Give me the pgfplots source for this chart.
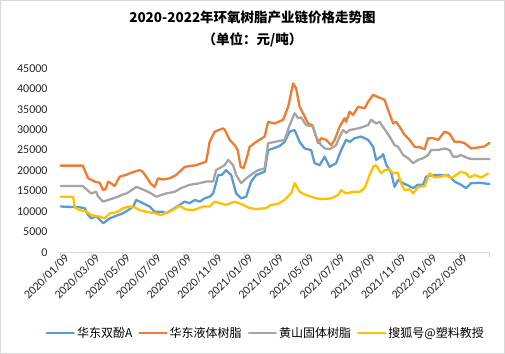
\documentclass[border=0pt]{standalone}
\usepackage{fontspec}
\setmainfont{Carlito}
\newfontfamily\cjk{Noto Sans CJK SC}
\usepackage{pgfplots}
\pgfplotsset{compat=1.18}
\definecolor{cBlue}{HTML}{5B9BD5}
\definecolor{cOrange}{HTML}{ED7D31}
\definecolor{cGray}{HTML}{A5A5A5}
\definecolor{cYellow}{HTML}{FFC000}
\definecolor{cAxis}{HTML}{D9D9D9}
\definecolor{cText}{HTML}{262626}
\begin{document}
\begin{tikzpicture}
\path[use as bounding box] (0,0) rectangle (505bp,354bp);
\draw[cAxis, line width=0.8bp] (0.5bp,0.5bp) rectangle (504.5bp,353.5bp);
\node[font=\cjk\bfseries\fontsize{13.5bp}{15bp}\selectfont, text=black] at (252.5bp,337bp) {2020-2022年环氧树脂产业链价格走势图};
\node[font=\cjk\bfseries\fontsize{13.5bp}{15bp}\selectfont, text=black] at (252.5bp,314bp) {（单位：元/吨）};
\begin{axis}[
  at={(60.7bp,101.7bp)}, anchor=south west,
  scale only axis, width=428.9bp, height=184bp,
  xmin=0, xmax=858, ymin=0, ymax=45000,
  axis x line*=bottom, axis y line*=left,
  x axis line style={draw=cAxis, line width=0.8bp},
  y axis line style={draw=none},
  xtick={0,61.29,122.57,183.86,245.14,306.43,367.71,429,490.29,551.57,612.86,674.14,735.43,796.71,858},
  xticklabels={2020/01/09,2020/03/09,2020/05/09,2020/07/09,2020/09/09,2020/11/09,2021/01/09,2021/03/09,2021/05/09,2021/07/09,2021/09/09,2021/11/09,2022/01/09,2022/03/09,},
  xtick style={draw=cAxis, line width=0.8bp},
  tick align=outside, major tick length=4.5bp,
  ytick={0,5000,...,45000},
  ytick style={draw=none},
  scaled y ticks=false,
  /pgf/number format/assume math mode=true,
  yticklabel={\pgfmathprintnumber[fixed,1000 sep={}]{\tick}},
  yticklabel style={anchor=east, inner sep=0pt, xshift=-8.5bp, font=\fontsize{12bp}{14bp}\selectfont, text=cText},
  xticklabel style={rotate=45, anchor=east, inner sep=0pt, xshift=5bp, yshift=-4bp, font=\fontsize{12bp}{14bp}\selectfont, text=cText},
  legend columns=4,
  legend style={at={(axis description cs:0.478,-0.4386)}, anchor=center, draw=none, fill=none,
    font=\cjk\fontsize{12bp}{14bp}\selectfont, text=black,
    /tikz/every even column/.append style={column sep=4bp},
    inner sep=0pt},
  legend image code/.code={\draw[#1, line width=2.4bp] (0bp,0bp) -- (27bp,0bp);},
  every axis plot/.append style={line width=2.3bp, line join=round, line cap=round},
  clip=false,
]
\addplot[cBlue] coordinates {
(0,11200)(38,11000)(48,10800)(55,9100)(61,8300)(71,8800)(85,7100)(98,8300)(115,9100)(124,9500)
(135,10300)(145,11200)(151,12800)(158,12400)(168,11800)(178,11200)(188,9900)(205,9900)(210,9500)
(228,10800)(238,11600)(248,12400)(258,12000)(268,12800)(278,12400)(288,13200)(298,13600)(305,14400)
(315,18900)(322,18900)(331,20100)(341,18900)(351,14400)(361,13200)(371,13600)(381,17300)(391,18900)
(408,19700)(415,25000)(425,25400)(438,26000)(448,27000)(458,29500)(468,29900)(478,27000)(488,25400)
(501,25000)(508,21800)(518,21300)(528,23400)(538,20900)(551,21800)(561,25000)(571,27500)(578,27000)
(588,27900)(601,28300)(615,27500)(625,25800)(631,22600)(641,23400)(645,24000)(651,21500)(661,19500)
(668,16000)(675,17700)(685,16900)(694,16400)(705,15700)(714,16500)(725,16500)(731,18500)(745,18900)
(775,18900)(788,17300)(801,16500)(811,15700)(821,16900)(838,17000)(858,16700)};
\addlegendentry{华东双酚A}
\addplot[cOrange] coordinates {
(0,21200)(44,21200)(48,20100)(55,18100)(68,17300)(78,17000)(85,15200)(90,15500)(95,17300)(104,16600)
(108,16200)(118,18500)(130,18900)(142,19500)(158,20100)(164,19700)(171,18500)(180,16800)(188,16000)
(195,18100)(204,17800)(218,18100)(231,18900)(248,20900)(271,21300)(291,22200)(298,27000)(308,29500)
(324,30300)(328,30000)(338,27500)(348,26200)(354,25000)(360,20900)(366,20600)(372,23000)(378,25800)
(391,27000)(408,28300)(415,31900)(428,31500)(445,32400)(455,35600)(465,41300)(471,40100)(478,35600)
(488,33200)(495,31500)(504,31000)(515,26700)(521,27900)(531,27500)(541,26200)(548,27500)(558,30700)
(568,32800)(571,31900)(578,34400)(585,33600)(595,35600)(608,35200)(615,36800)(625,38500)(634,38000)
(648,37300)(655,34800)(665,31500)(671,31900)(678,30700)(688,28700)(698,27500)(708,25800)(718,25700)
(728,25200)(735,27900)(745,27900)(755,27500)(768,29500)(778,29000)(788,27000)(798,27000)(808,26700)
(821,25400)(838,25700)(848,25900)(858,26800)};
\addlegendentry{华东液体树脂}
\addplot[cGray] coordinates {
(0,16200)(44,16200)(61,14400)(71,14800)(75,13600)(85,12400)(95,12800)(105,13200)(115,13600)(121,14000)
(132,14400)(148,15700)(151,16000)(158,15700)(171,15000)(181,14400)(191,13600)(201,14000)(211,14400)
(228,14800)(241,15700)(258,16500)(278,16900)(291,17300)(305,17300)(311,20100)(328,21300)(335,22600)
(345,21300)(351,18900)(361,16900)(371,18100)(385,19300)(395,20100)(408,20500)(415,26700)(428,27000)
(448,27500)(458,31100)(468,34000)(475,32800)(481,33000)(491,31100)(504,30800)(511,28300)(521,26200)
(528,25400)(538,25200)(551,26200)(558,28300)(565,29900)(571,29200)(578,29900)(595,30300)(605,30700)
(615,31100)(621,32400)(631,31500)(638,31900)(648,30100)(658,28300)(668,26200)(675,25800)(685,23800)
(695,23000)(705,21800)(715,22600)(725,23000)(735,23800)(741,25000)(755,25000)(768,25400)(778,25000)
(785,23400)(794,23400)(801,23800)(811,23200)(821,22800)(858,22800)};
\addlegendentry{黄山固体树脂}
\addplot[cYellow] coordinates {
(0,13600)(25,13600)(28,11000)(38,10300)(51,10000)(61,9100)(78,8700)(88,8300)(98,9500)(114,9900)
(125,10800)(138,11200)(148,11000)(158,10300)(171,9900)(181,9700)(191,9500)(201,9100)(208,9500)
(224,10300)(238,11400)(250,10500)(265,10300)(285,11200)(298,11200)(308,12400)(318,12000)(331,11600)
(348,12400)(365,11600)(378,10800)(391,10600)(411,10800)(421,11600)(434,11800)(448,12800)(461,14400)
(468,16900)(478,14800)(491,14000)(511,13200)(524,13000)(541,13200)(555,14000)(561,15200)(571,14400)
(585,14800)(598,14800)(608,15700)(618,18900)(625,20900)(631,21300)(641,19300)(648,20100)(658,20300)
(665,19300)(674,19500)(681,16900)(688,15200)(698,15400)(705,14400)(715,16000)(728,16200)(738,19300)
(748,18300)(760,18500)(771,18900)(781,18100)(791,18900)(801,19700)(811,19300)(818,18300)(828,18900)
(841,18300)(855,19300)};
\addlegendentry{搜狐号@塑料教授}
\end{axis}
\end{tikzpicture}
\end{document}
